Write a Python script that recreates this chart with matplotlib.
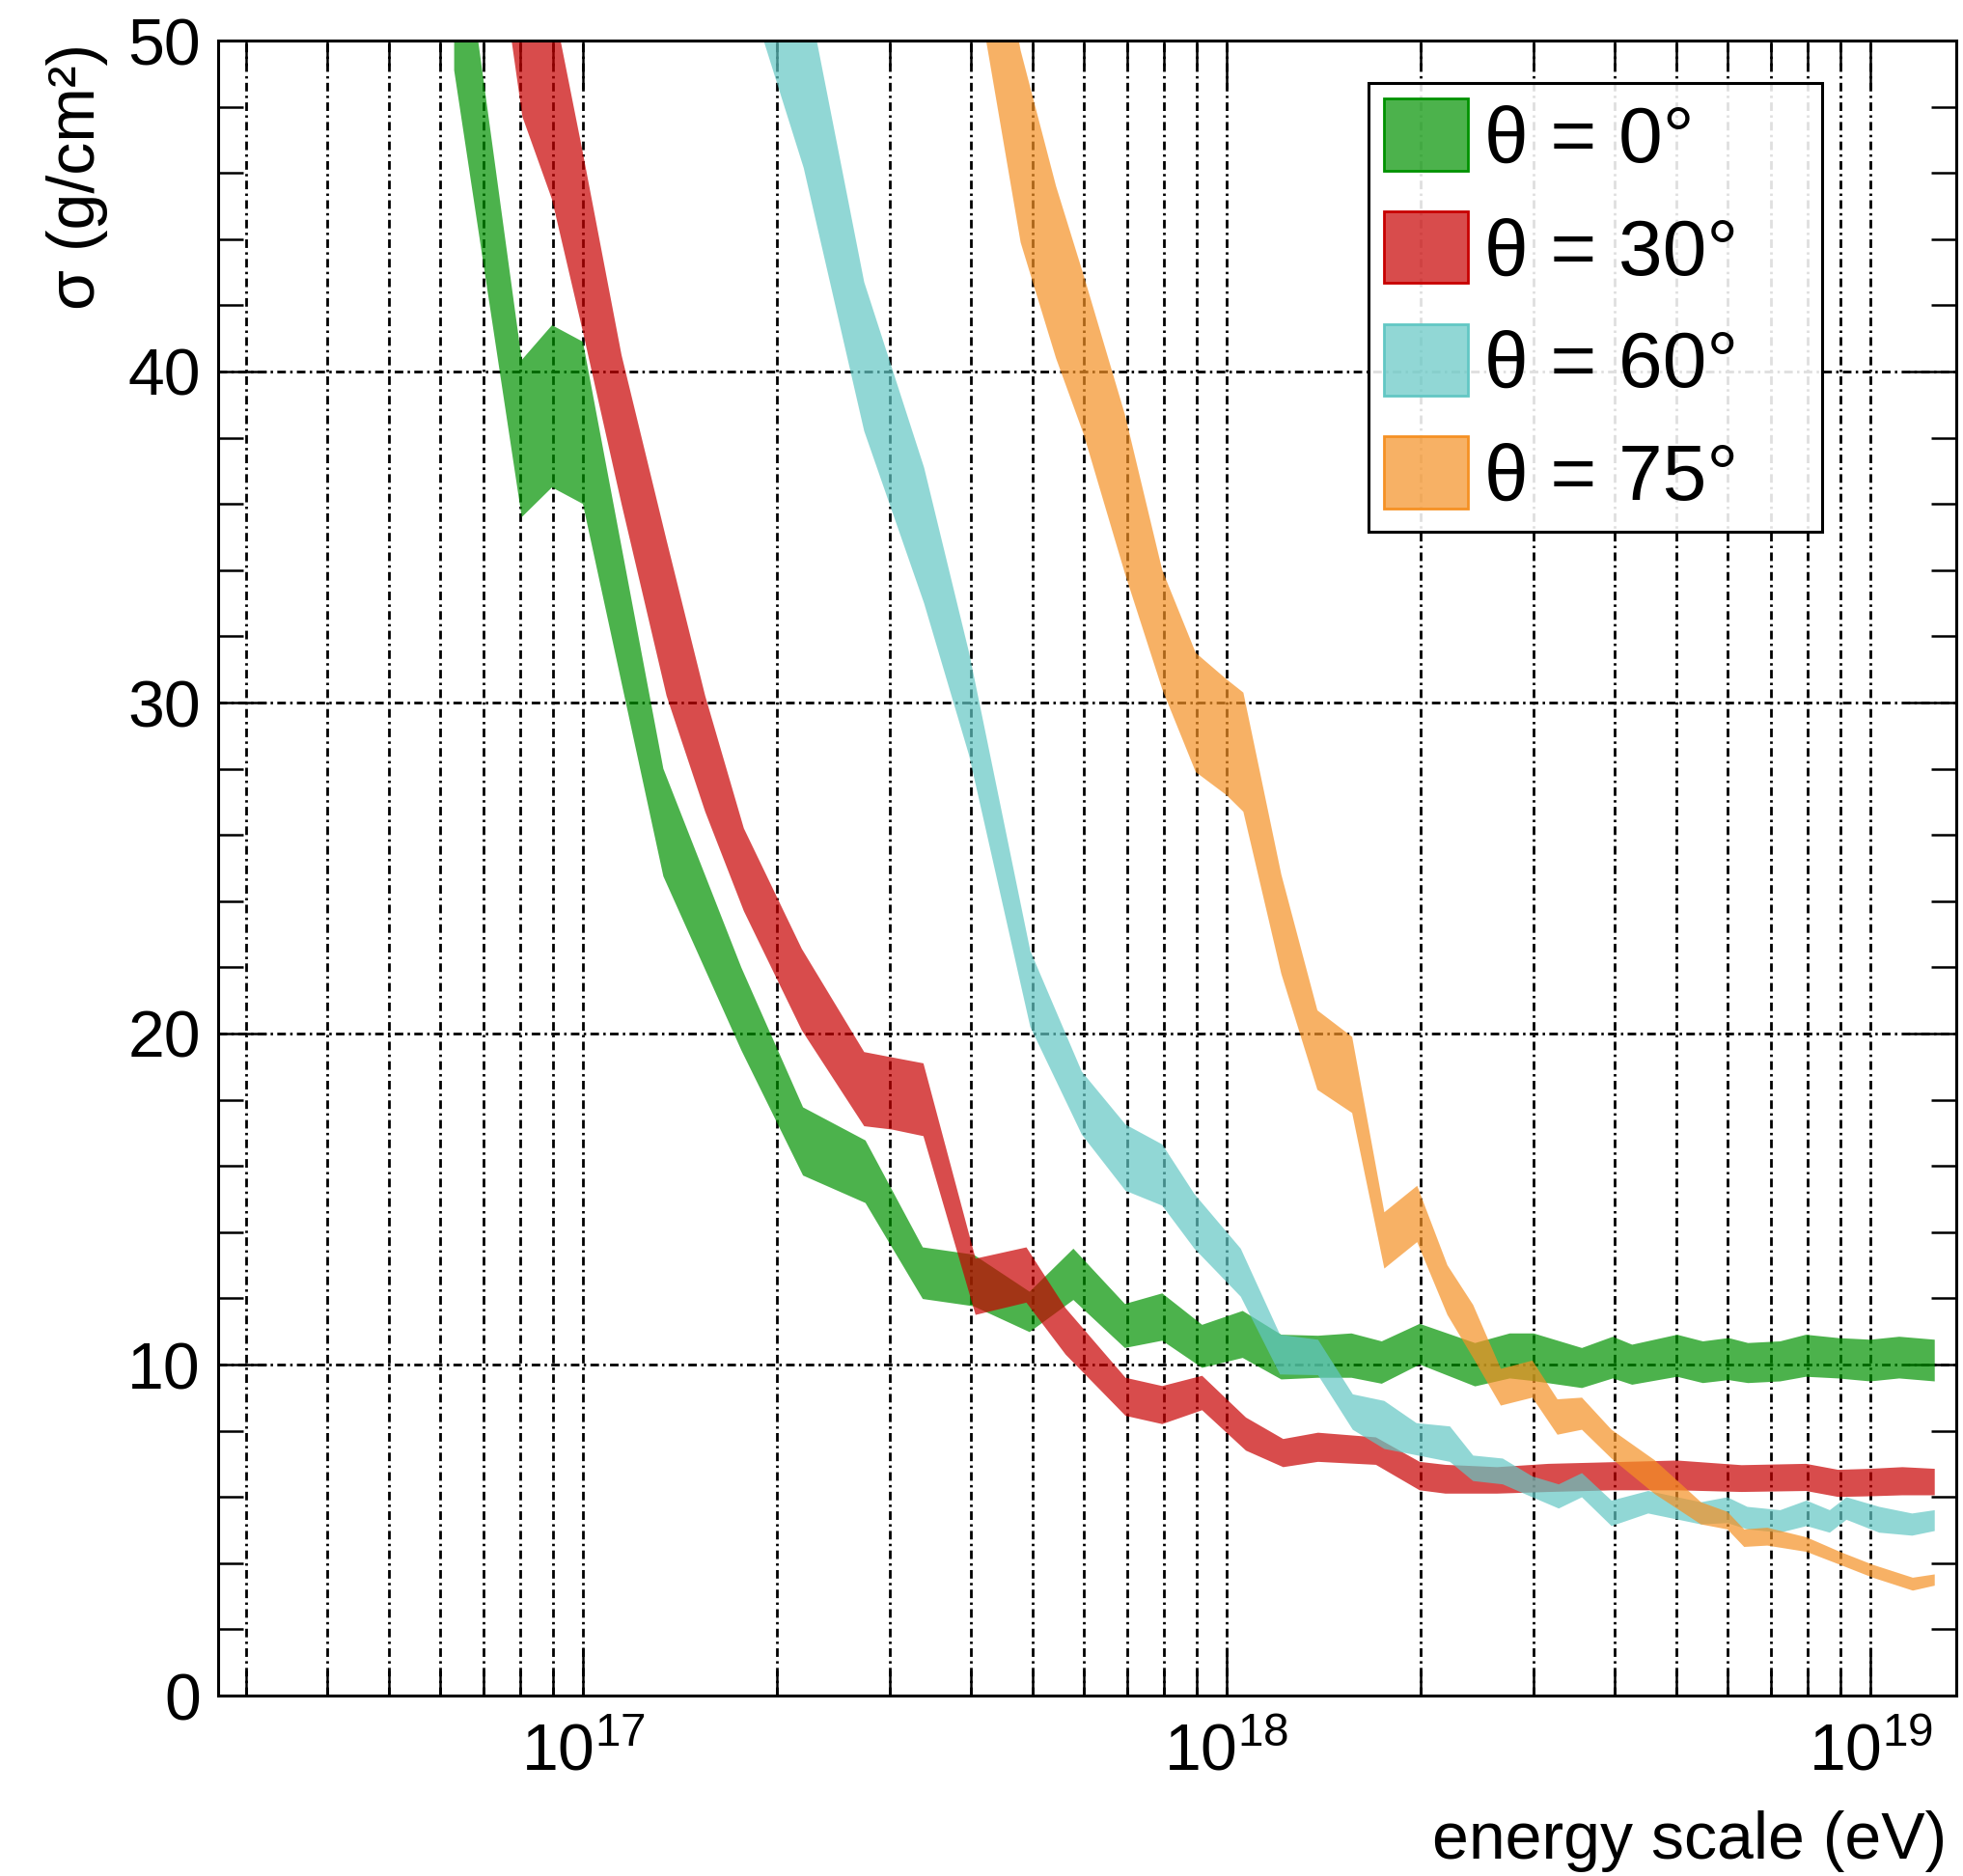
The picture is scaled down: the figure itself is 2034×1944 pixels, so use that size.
import matplotlib
matplotlib.use("Agg")
import matplotlib.pyplot as plt
import numpy as np
from matplotlib.patches import Patch
from matplotlib.ticker import LogLocator, MultipleLocator, NullFormatter, LogFormatterSciNotation

plt.rcParams["font.family"] = ["Liberation Sans", "DejaVu Sans"]
plt.rcParams["mathtext.fontset"] = "custom"
plt.rcParams["mathtext.rm"] = "Liberation Sans"
plt.rcParams["mathtext.it"] = "Liberation Sans:italic"
plt.rcParams["mathtext.bf"] = "Liberation Sans:bold"

# band edges, x given as log10(E / eV)
logE_0 = [16.80, 16.905, 16.952, 17.00, 17.125, 17.246, 17.342, 17.439, 17.528, 17.607,
          17.694, 17.762, 17.842, 17.90, 17.962, 18.025, 18.085, 18.142, 18.194, 18.241,
          18.30, 18.386, 18.44, 18.477, 18.552, 18.60, 18.63, 18.70, 18.74, 18.78,
          18.81, 18.86, 18.90, 18.95, 19.00, 19.045, 19.10]
hi_0 = [55.3, 40.35, 41.4, 40.9, 28.0, 22.0, 17.77, 16.77, 13.54, 13.32,
        12.2, 13.5, 11.83, 12.15, 11.2, 11.62, 10.9, 10.87, 10.94, 10.7,
        11.23, 10.65, 10.94, 10.94, 10.5, 10.84, 10.6, 10.9, 10.7, 10.8,
        10.65, 10.7, 10.9, 10.8, 10.75, 10.84, 10.75]
lo_0 = [49.1, 35.6, 36.5, 36.0, 24.75, 19.5, 15.71, 14.88, 11.98, 11.76,
        10.98, 11.95, 10.5, 10.72, 9.9, 10.2, 9.55, 9.6, 9.6, 9.42,
        10.0, 9.34, 9.58, 9.5, 9.29, 9.58, 9.39, 9.63, 9.44, 9.53,
        9.44, 9.49, 9.63, 9.58, 9.49, 9.58, 9.49]

logE_30 = [16.86, 16.906, 16.952, 17.00, 17.06, 17.13, 17.19, 17.25, 17.34, 17.437,
           17.48, 17.529, 17.61, 17.689, 17.75, 17.843, 17.90, 17.962, 18.03, 18.088,
           18.142, 18.232, 18.30, 18.34, 18.42, 18.50, 18.60, 18.70, 18.80, 18.90,
           18.95, 19.00, 19.05, 19.10]
hi_30 = [60.2, 55.7, 51.3, 46.6, 40.5, 34.9, 30.2, 26.2, 22.56, 19.44,
         19.28, 19.1, 13.2, 13.54, 11.7, 9.6, 9.35, 9.66, 8.4, 7.75,
         7.94, 7.8, 7.06, 6.97, 6.9, 7.0, 7.05, 7.1, 6.96, 7.0,
         6.82, 6.85, 6.9, 6.85]
lo_30 = [54.0, 47.7, 45.2, 41.2, 36.0, 30.2, 26.7, 23.7, 20.1, 17.2,
         17.1, 16.9, 11.5, 11.87, 10.3, 8.45, 8.2, 8.62, 7.4, 6.9,
         7.06, 6.97, 6.2, 6.1, 6.1, 6.15, 6.2, 6.2, 6.15, 6.18,
         6.0, 6.02, 6.05, 6.05]

logE_60 = [17.25, 17.343, 17.437, 17.53, 17.60, 17.695, 17.775, 17.843, 17.90, 17.95,
           18.022, 18.083, 18.142, 18.196, 18.245, 18.295, 18.347, 18.383, 18.429, 18.475,
           18.516, 18.552, 18.598, 18.655, 18.737, 18.778, 18.809, 18.86, 18.901, 18.937,
           18.963, 19.014, 19.065, 19.10]
hi_60 = [61.0, 52.0, 42.7, 37.1, 31.5, 22.5, 18.85, 17.25, 16.65, 15.15,
         13.5, 10.9, 10.75, 9.1, 8.9, 8.23, 8.13, 7.25, 7.16, 6.62,
         6.38, 6.72, 5.89, 6.18, 5.84, 5.99, 5.7, 5.6, 5.89, 5.6,
         5.99, 5.7, 5.5, 5.6]
lo_60 = [51.9, 46.15, 38.2, 33.0, 28.4, 20.2, 16.95, 15.25, 14.8, 13.5,
         12.05, 9.7, 9.68, 8.03, 7.45, 7.26, 7.06, 6.48, 6.38, 5.99,
         5.65, 5.99, 5.12, 5.5, 5.17, 5.21, 5.02, 4.92, 5.12, 4.92,
         5.31, 4.92, 4.83, 4.97]

logE_75 = [17.60, 17.68, 17.735, 17.778, 17.842, 17.90, 17.952, 18.00, 18.026, 18.085,
           18.141, 18.195, 18.245, 18.296, 18.343, 18.383, 18.426, 18.475, 18.514, 18.552,
           18.598, 18.665, 18.737, 18.778, 18.804, 18.84, 18.901, 18.953, 19.004, 19.066,
           19.10]
hi_75 = [58.0, 49.7, 45.6, 42.9, 38.7, 34.0, 31.5, 30.7, 30.3, 24.8,
         20.7, 19.9, 14.6, 15.4, 13.0, 11.8, 9.87, 10.12, 8.95, 9.0,
         8.03, 7.11, 5.84, 5.55, 5.02, 5.07, 4.78, 4.34, 3.95, 3.56,
         3.66]
lo_75 = [53.0, 43.9, 40.4, 38.1, 33.9, 30.4, 27.9, 27.2, 26.7, 21.8,
         18.3, 17.6, 12.9, 13.7, 11.5, 10.2, 8.76, 9.0, 7.88, 8.03,
         7.16, 6.09, 5.17, 5.02, 4.49, 4.53, 4.34, 3.95, 3.56, 3.17,
         3.32]

labels = ["θ = 0°", "θ = 30°", "θ = 60°", "θ = 75°"]
colors = ["#009200", "#c80000", "#62c7c4", "#f59124"]
ALPHA = 0.7

series = [(logE_0, lo_0, hi_0), (logE_30, lo_30, hi_30),
          (logE_60, lo_60, hi_60), (logE_75, lo_75, hi_75)]

fig = plt.figure(figsize=(2034 / 200, 1944 / 200), dpi=200)
ax = fig.add_axes([226 / 2034, 1 - 1757 / 1944, (2027 - 226) / 2034, (1757 - 42) / 1944])

for (le, lo, hi), c in zip(series, colors):
    e = 10.0 ** np.asarray(le)
    ax.fill_between(e, lo, hi, facecolor=c, alpha=ALPHA, edgecolor="none", lw=0)

ax.set_xscale("log")
ax.set_xlim(10 ** 16.4333, 10 ** 19.1334)
ax.set_ylim(0, 50)

ax.xaxis.set_major_locator(LogLocator(base=10, subs=(1.0,)))
ax.xaxis.set_minor_locator(LogLocator(base=10, subs=np.arange(2, 10)))
ax.xaxis.set_minor_formatter(NullFormatter())
ax.xaxis.set_major_formatter(LogFormatterSciNotation())
ax.yaxis.set_major_locator(MultipleLocator(10))
ax.yaxis.set_minor_locator(MultipleLocator(2))

# ROOT-style dash-dot grid
grid_style = dict(color="black", lw=1.0, linestyle=(0, (3.2, 1.6, 0.9, 1.6)))
ax.set_axisbelow(True)
ax.grid(True, which="both", axis="x", **grid_style)
ax.grid(True, which="major", axis="y", **grid_style)

ax.tick_params(which="both", direction="in", top=True, right=True, width=0.9, colors="black")
ax.tick_params(which="major", length=18)
ax.tick_params(which="minor", length=9.5)
ax.tick_params(axis="x", which="major", labelsize=24.5, pad=10)
ax.tick_params(axis="y", which="major", labelsize=24.5, pad=6.5)
for s in ax.spines.values():
    s.set_linewidth(1.1)

fig.text(2017 / 2034, 1 - 1926 / 1944, "energy scale (eV)", ha="right", va="baseline", fontsize=24.5)
fig.text(80 / 2034, 1 - 45 / 1944, "σ (g/cm²)", ha="center", va="top", rotation=90, fontsize=24.5)

handles = [Patch(facecolor=matplotlib.colors.to_rgba(c, ALPHA), edgecolor=c, lw=1.0) for c in colors]
leg_box = (1418 / 2034, 1 - 556 / 1944, 470 / 2034, 470 / 1944)
leg = ax.legend(handles, labels, loc="upper left", mode="expand",
                bbox_to_anchor=leg_box, bbox_transform=fig.transFigure,
                fontsize=29.5, fancybox=False, borderpad=0.2, borderaxespad=0,
                handlelength=1.06, handleheight=1.02, handletextpad=0.2, labelspacing=0.42)
frame = leg.get_frame()
frame.set_alpha(None)
frame.set_facecolor((1, 1, 1, 0.88))
frame.set_edgecolor("black")
frame.set_linewidth(1.1)

fig.savefig("out.png", dpi=200)
